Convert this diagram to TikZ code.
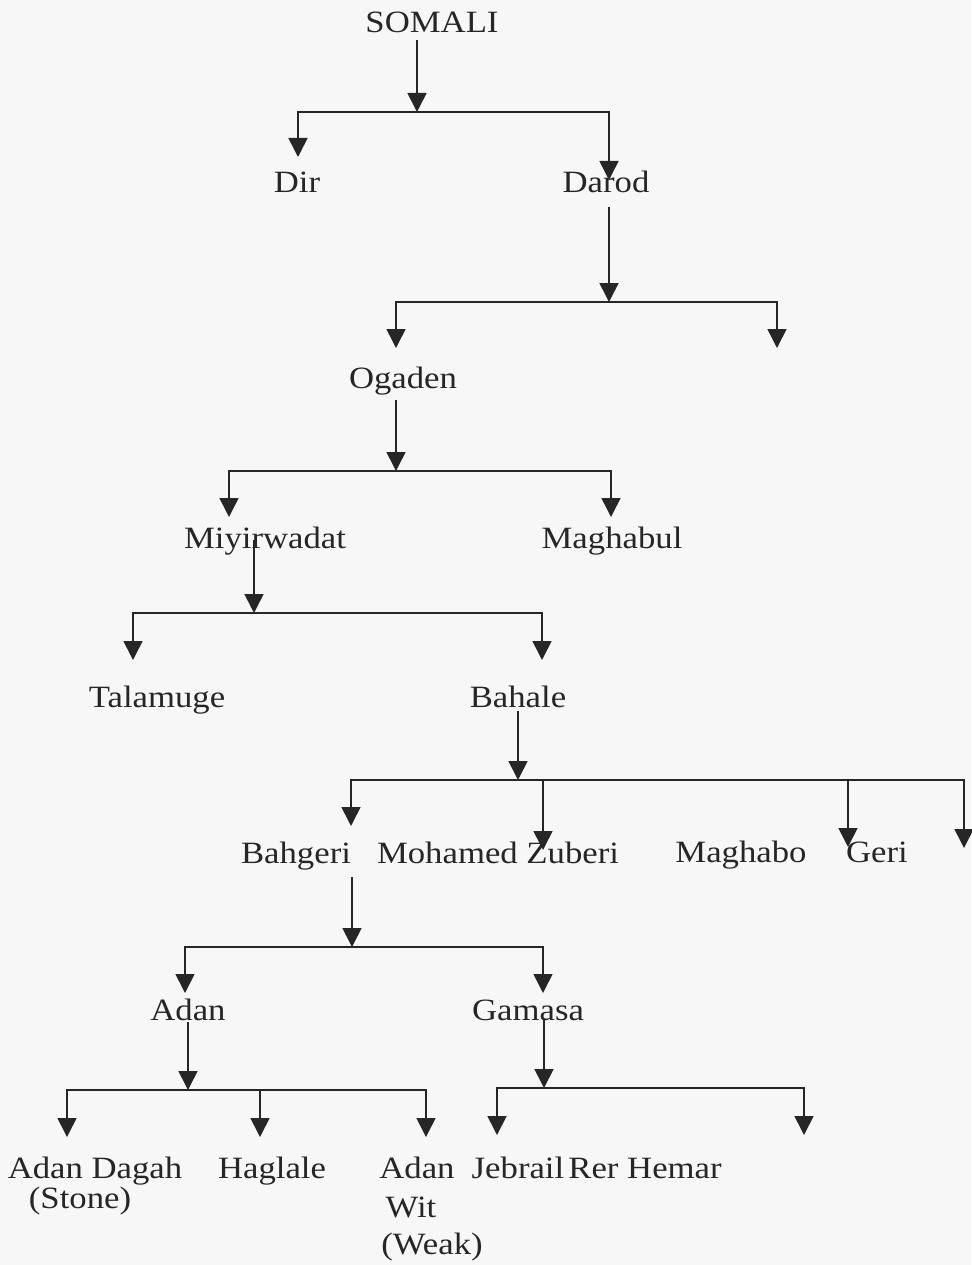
\documentclass[tikz,border=0pt]{standalone}
\usepackage{fontspec}
\setmainfont[FakeStretch=1.12]{Liberation Serif}
\usetikzlibrary{arrows.meta}
\begin{document}
\begin{tikzpicture}[x=1pt,y=-1pt,
  lbl/.style={anchor=base, inner sep=0pt, text=black!85, font=\fontsize{31}{37}\selectfont},
  arr/.style={draw=black!85, line width=1.6pt, -{Triangle[width=19pt,length=19pt]}},
  barline/.style={draw=black!85, line width=1.6pt, line cap=rect}]
\fill[black!3] (0,0) rectangle (971,1265);
\useasboundingbox (0,0) rectangle (971,1265);

% ---------- labels ----------
\node[lbl] (somali)   at (432,33)   {SOMALI};
\node[lbl] (dir)      at (297,193)  {Dir};
\node[lbl] (darod)    at (606,193)  {Darod};
\node[lbl] (ogaden)   at (403,388)  {Ogaden};
\node[lbl] (miyir)    at (265,548)  {Miyirwadat};
\node[lbl] (maghabul) at (612,548)  {Maghabul};
\node[lbl] (talamuge) at (157,707)  {Talamuge};
\node[lbl] (bahale)   at (518,707)  {Bahale};
\node[lbl] (bahgeri)  at (296,863)  {Bahgeri};
\node[lbl] (mzuberi)  at (498,863)  {Mohamed Zuberi};
\node[lbl] (maghabo)  at (741,862)  {Maghabo};
\node[lbl] (geri)     at (877,862)  {Geri};
\node[lbl] (adan)     at (188,1020) {Adan};
\node[lbl] (gamasa)   at (528,1020) {Gamasa};
\node[lbl] (adandagah) at (95,1178) {Adan Dagah};
\node[lbl] (stone)    at (80,1208)  {(Stone)};
\node[lbl] (haglale)  at (272,1178) {Haglale};
\node[lbl] (adanw)    at (417,1178) {Adan};
\node[lbl] (wit)      at (411,1217) {Wit};
\node[lbl] (weak)     at (432,1254) {(Weak)};
\node[lbl] (jebrail)  at (518,1178) {Jebrail};
\node[lbl] (rerhemar) at (645,1178) {Rer Hemar};

% ---------- family 1: SOMALI ----------
\coordinate (s1) at (417,40);  \coordinate (j1) at (417,112);
\coordinate (b1l) at (298,112); \coordinate (b1r) at (609,112);
\coordinate (t1a) at (298,157); \coordinate (t1b) at (609,180);
\draw[arr] (s1) -- (j1);
\draw[barline] (b1l) -- (b1r);
\draw[arr] (b1l) -- (t1a);
\draw[arr] (b1r) -- (t1b);

% ---------- family 2: Darod ----------
\coordinate (s2) at (609,207);  \coordinate (j2) at (609,302);
\coordinate (b2l) at (396,302); \coordinate (b2r) at (777,302);
\coordinate (t2a) at (396,348); \coordinate (t2b) at (777,348);
\draw[arr] (s2) -- (j2);
\draw[barline] (b2l) -- (b2r);
\draw[arr] (b2l) -- (t2a);
\draw[arr] (b2r) -- (t2b);

% ---------- family 3: Ogaden ----------
\coordinate (s3) at (396,400);  \coordinate (j3) at (396,471);
\coordinate (b3l) at (229,471); \coordinate (b3r) at (611,471);
\coordinate (t3a) at (229,517); \coordinate (t3b) at (611,517);
\draw[arr] (s3) -- (j3);
\draw[barline] (b3l) -- (b3r);
\draw[arr] (b3l) -- (t3a);
\draw[arr] (b3r) -- (t3b);

% ---------- family 4: Miyirwadat ----------
\coordinate (s4) at (254,540);  \coordinate (j4) at (254,613);
\coordinate (b4l) at (133,613); \coordinate (b4r) at (542,613);
\coordinate (t4a) at (133,660); \coordinate (t4b) at (542,660);
\draw[arr] (s4) -- (j4);
\draw[barline] (b4l) -- (b4r);
\draw[arr] (b4l) -- (t4a);
\draw[arr] (b4r) -- (t4b);

% ---------- family 5: Bahale ----------
\coordinate (s5) at (518,711);  \coordinate (j5) at (518,780);
\coordinate (b5l) at (351,780); \coordinate (b5r) at (964,780);
\coordinate (t5a) at (351,826); \coordinate (t5b) at (543,850);
\coordinate (t5c) at (848,847); \coordinate (t5d) at (964,848);
\draw[arr] (s5) -- (j5);
\draw[barline] (b5l) -- (b5r);
\draw[arr] (b5l) -- (t5a);
\draw[arr] (t5b |- j5) -- (t5b);
\draw[arr] (t5c |- j5) -- (t5c);
\draw[arr] (b5r) -- (t5d);

% ---------- family 6: Bahgeri ----------
\coordinate (s6) at (352,877);  \coordinate (j6) at (352,947);
\coordinate (b6l) at (185,947); \coordinate (b6r) at (543,947);
\coordinate (t6a) at (185,993); \coordinate (t6b) at (543,993);
\draw[arr] (s6) -- (j6);
\draw[barline] (b6l) -- (b6r);
\draw[arr] (b6l) -- (t6a);
\draw[arr] (b6r) -- (t6b);

% ---------- family 7: Adan ----------
\coordinate (s7) at (188,1022); \coordinate (j7) at (188,1090);
\coordinate (b7l) at (67,1090); \coordinate (b7r) at (426,1090);
\coordinate (t7a) at (67,1137); \coordinate (t7b) at (260,1137);
\coordinate (t7c) at (426,1137);
\draw[arr] (s7) -- (j7);
\draw[barline] (b7l) -- (b7r);
\draw[arr] (b7l) -- (t7a);
\draw[arr] (t7b |- j7) -- (t7b);
\draw[arr] (b7r) -- (t7c);

% ---------- family 8: Gamasa ----------
\coordinate (s8) at (544,1020); \coordinate (j8) at (544,1088);
\coordinate (b8l) at (497,1088); \coordinate (b8r) at (804,1088);
\coordinate (t8a) at (497,1135); \coordinate (t8b) at (804,1135);
\draw[arr] (s8) -- (j8);
\draw[barline] (b8l) -- (b8r);
\draw[arr] (b8l) -- (t8a);
\draw[arr] (b8r) -- (t8b);
\end{tikzpicture}
\end{document}
